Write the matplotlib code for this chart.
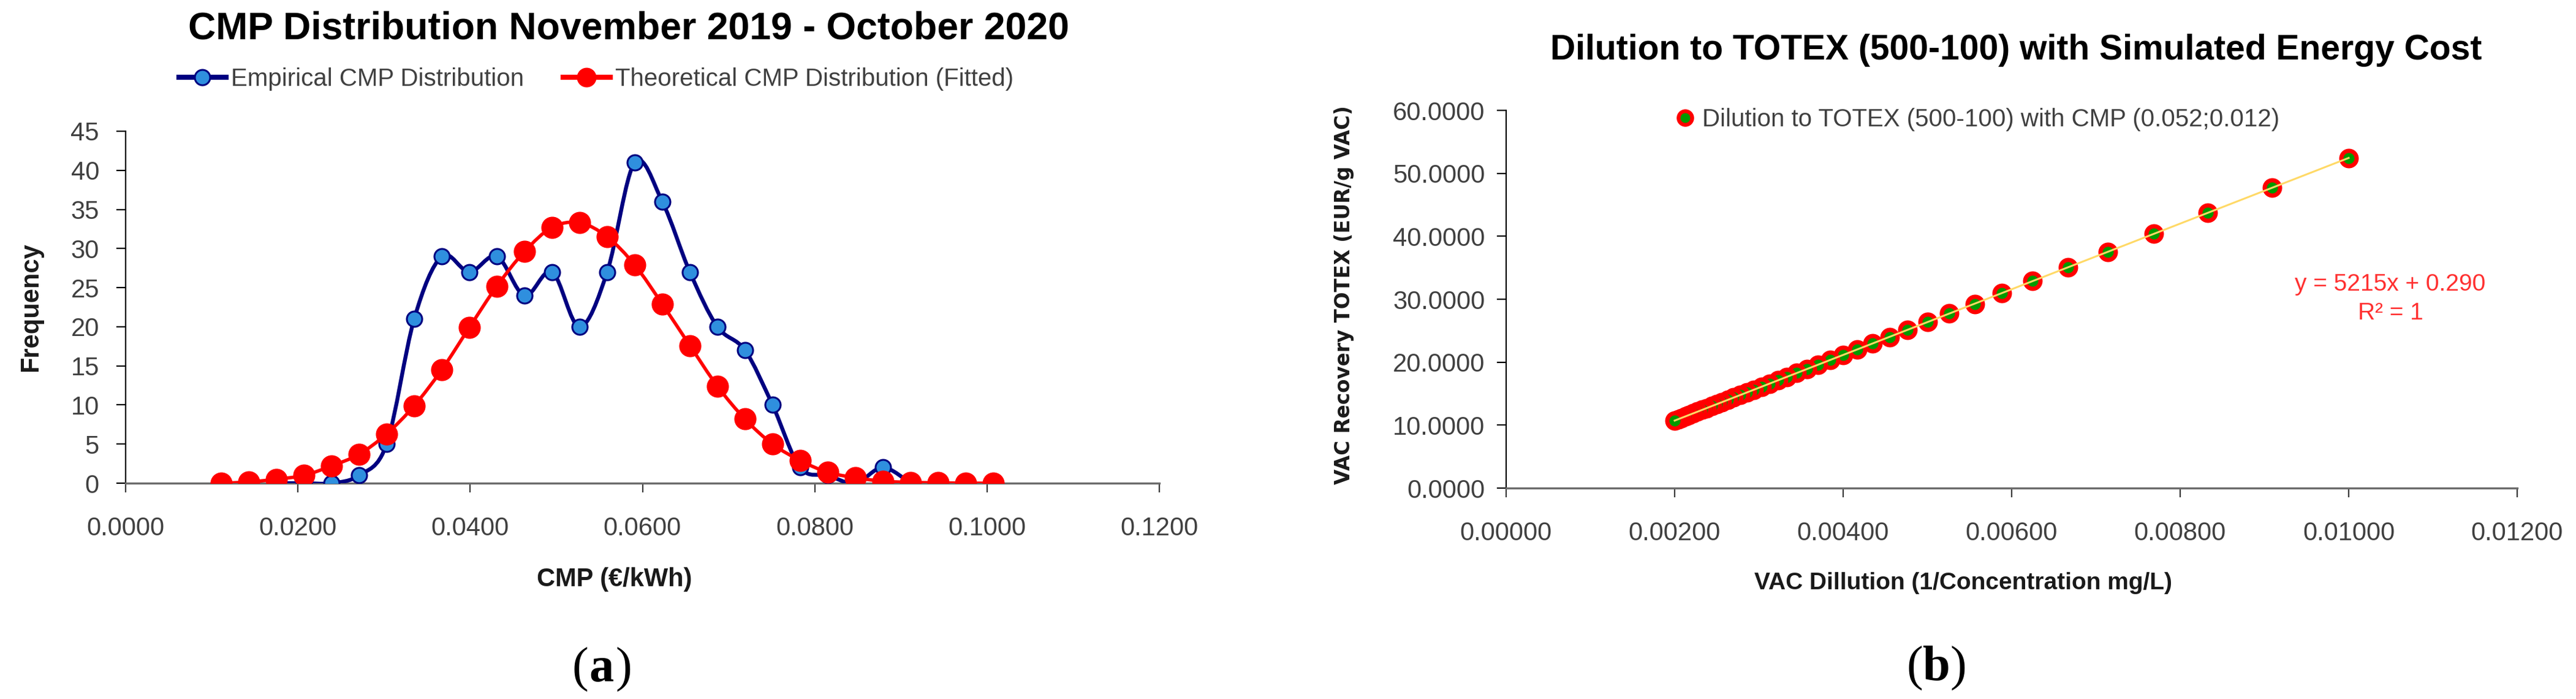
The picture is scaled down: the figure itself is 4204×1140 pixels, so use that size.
import numpy as np
import matplotlib
matplotlib.use("Agg")
import matplotlib.pyplot as plt
from matplotlib.path import Path
from matplotlib.patches import PathPatch
from matplotlib.lines import Line2D
from matplotlib.ticker import MultipleLocator, FormatStrFormatter

plt.rcParams['font.family'] = ['Liberation Sans', 'DejaVu Sans']

# ---- panel (a): CMP distribution ----
cmp_bins = [0.0111, 0.0143, 0.0175, 0.0207, 0.0239, 0.0271, 0.0303, 0.0335, 0.0367,
            0.0399, 0.0431, 0.0463, 0.0495, 0.0527, 0.0559, 0.0591, 0.0623, 0.0655,
            0.0687, 0.0719, 0.0751, 0.0783, 0.0815, 0.0847, 0.0879, 0.0911, 0.0943,
            0.0975, 0.1007]
empirical = [0, 0, 0, 1, 5, 21, 29, 27, 29, 24, 27, 20, 27, 41, 36, 27, 20, 17, 10,
             2, 1, 0, 2, 0]          # from bin 0.0175 to 0.0911
theoretical = [0.0, 0.15, 0.5, 1.0, 2.2, 3.7, 6.3, 9.9, 14.5, 19.9, 25.2, 29.6, 32.7,
               33.3, 31.5, 27.9, 22.9, 17.6, 12.4, 8.2, 5.0, 2.9, 1.4, 0.7, 0.25, 0.1,
               0.05, 0.0, 0.0]

# ---- panel (b): dilution vs TOTEX ----
dilution = [0.01000, 0.00909, 0.00833, 0.00769, 0.00714, 0.00667, 0.00625, 0.00588,
            0.00556, 0.00526, 0.00500, 0.00476, 0.00455, 0.00435, 0.00417, 0.00400,
            0.00385, 0.00370, 0.00357, 0.00345, 0.00333, 0.00323, 0.00313, 0.00303,
            0.00294, 0.00286, 0.00278, 0.00270, 0.00263, 0.00256, 0.00250, 0.00244,
            0.00238, 0.00233, 0.00227, 0.00222, 0.00217, 0.00213, 0.00208, 0.00204,
            0.00200]
totex = [52.44, 47.70, 43.75, 40.40, 37.54, 35.06, 32.88, 30.97, 29.26, 27.74, 26.37,
         25.12, 23.99, 22.96, 22.02, 21.15, 20.35, 19.61, 18.92, 18.27, 17.67, 17.11,
         16.59, 16.09, 15.63, 15.19, 14.78, 14.39, 14.01, 13.66, 13.33, 13.01, 12.71,
         12.42, 12.14, 11.88, 11.63, 11.39, 11.15, 10.93, 10.72]

W, H = 4204, 1140
TICK_GREY = '#404040'


def smooth_path(x, y):
    # Excel-like smoothed line: cubic Bezier segments through every point
    p = np.column_stack([x, y]).astype(float)
    verts = [p[0]]
    codes = [Path.MOVETO]
    n = len(p)
    for i in range(n - 1):
        p0 = p[i - 1] if i > 0 else p[i]
        p3 = p[i + 2] if i + 2 < n else p[i + 1]
        c1 = p[i] + (p[i + 1] - p0) / 6.0
        c2 = p[i + 1] - (p3 - p[i]) / 6.0
        verts += [c1, c2, p[i + 1]]
        codes += [Path.CURVE4] * 3
    return Path(verts, codes)


def style_axes(ax):
    for s in ['top', 'right']:
        ax.spines[s].set_visible(False)
    ax.spines['left'].set_color('black')
    ax.spines['left'].set_linewidth(1.6)
    ax.spines['bottom'].set_color('#6a6a6a')
    ax.spines['bottom'].set_linewidth(2.4)
    ax.tick_params(axis='both', direction='out', length=11, width=1.6,
                   labelsize=30, labelcolor=TICK_GREY)
    ax.tick_params(axis='x', color='#3a3a3a', pad=28)


def panel_tag(xc, yc, letter):
    # "(a)" with a bold letter, serif like the source figure
    kw = dict(va='center', fontsize=58, family='Liberation Serif')
    fig.text((xc - 22) / W, 1 - yc / H, '(', ha='right', **kw)
    fig.text(xc / W, 1 - yc / H, letter, ha='center', fontweight='bold', **kw)
    fig.text((xc + 22) / W, 1 - yc / H, ')', ha='left', **kw)


fig = plt.figure(figsize=(W / 100, H / 100), dpi=100)

# ================= (a) =================
ax1 = fig.add_axes([205 / W, (H - 788) / H, 1687 / W, 574 / H])
emp_x = cmp_bins[2:2 + len(empirical)]
ax1.add_patch(PathPatch(smooth_path(emp_x, empirical), fill=False,
                        edgecolor='#000080', lw=4.6, zorder=3, capstyle='round'))
ax1.plot(emp_x, empirical, ls='none', marker='o', ms=18, mfc='#2f8fde',
         mec='#000080', mew=2.2, zorder=4)
ax1.add_patch(PathPatch(smooth_path(cmp_bins, theoretical), fill=False,
                        edgecolor='#ff0000', lw=4.0, zorder=5, capstyle='round'))
ax1.plot(cmp_bins, theoretical, ls='none', marker='o', ms=25, mfc='#ff0000',
         mec='#ff0000', zorder=6)
ax1.set_xlim(0, 0.12)
ax1.set_ylim(0, 45)
ax1.xaxis.set_major_locator(MultipleLocator(0.02))
ax1.xaxis.set_major_formatter(FormatStrFormatter('%.4f'))
ax1.yaxis.set_major_locator(MultipleLocator(5))
style_axes(ax1)
ax1.tick_params(axis='y', pad=20)

h_emp = Line2D([], [], color='#000080', lw=6, marker='o', ms=18, mfc='#2f8fde',
               mec='#000080', mew=2.2)
h_the = Line2D([], [], color='#ff0000', lw=6, marker='o', ms=22, mfc='#ff0000',
               mec='#ff0000')
fig.legend([h_emp, h_the],
           ['Empirical CMP Distribution', 'Theoretical CMP Distribution (Fitted)'],
           loc='center left', bbox_to_anchor=(292 / W, 1 - 129 / H), ncol=2,
           frameon=False, fontsize=29, handlelength=1.9, handletextpad=0.2,
           columnspacing=1.6, borderpad=0, borderaxespad=0, labelcolor=TICK_GREY)

fig.text(1026 / W, 1 - 47 / H, 'CMP Distribution November 2019 - October 2020',
         ha='center', va='center', fontsize=45, fontweight='bold')
fig.text(1003 / W, 1 - 945 / H, 'CMP (€/kWh)', ha='center', va='center',
         fontsize=30, fontweight='bold', color='#1a1a1a')
fig.text(50 / W, 1 - 501 / H, 'Frequency', ha='center', va='center', rotation=90,
         fontsize=30, fontweight='bold', color='#1a1a1a')
panel_tag(982, 1092, 'a')

# ================= (b) =================
ax2 = fig.add_axes([2458 / W, (H - 796) / H, 1650 / W, 616 / H])
ax2.plot(dilution, totex, ls='none', marker='o', ms=18, mfc='#009a00',
         mec='#ff0000', mew=5, zorder=4)
slope, icept = np.polyfit(dilution, totex, 1)
xs = np.array([min(dilution), max(dilution)])
ax2.plot(xs, slope * xs + icept, color='#ffd966', lw=2.2, zorder=5)
ax2.set_xlim(0, 0.012)
ax2.set_ylim(0, 60)
ax2.xaxis.set_major_locator(MultipleLocator(0.002))
ax2.xaxis.set_major_formatter(FormatStrFormatter('%.5f'))
ax2.yaxis.set_major_locator(MultipleLocator(10))
ax2.yaxis.set_major_formatter(FormatStrFormatter('%.4f'))
style_axes(ax2)
ax2.tick_params(axis='y', pad=14)

h_sc = Line2D([], [], ls='none', marker='o', ms=16, mfc='#009a00', mec='#ff0000',
              mew=4.5)
fig.legend([h_sc], ['Dilution to TOTEX (500-100) with CMP (0.052;0.012)'],
           loc='center left', bbox_to_anchor=(2738 / W, 1 - 195 / H),
           frameon=False, fontsize=29, handlelength=0.6, handletextpad=0.4,
           borderpad=0, borderaxespad=0, labelcolor=TICK_GREY)

fig.text(3290 / W, 1 - 82 / H, 'Dilution to TOTEX (500-100) with Simulated Energy Cost',
         ha='center', va='center', fontsize=41, fontweight='bold')
fig.text(3901 / W, 1 - 464 / H, 'y = 5215x + 0.290', ha='center', va='center',
         fontsize=28, color='#ff3030')
fig.text(3901 / W, 1 - 511 / H, 'R² = 1', ha='center', va='center',
         fontsize=28, color='#ff3030')
fig.text(3204 / W, 1 - 951 / H, 'VAC Dillution (1/Concentration mg/L)', ha='center',
         va='center', fontsize=28, fontweight='bold', color='#1a1a1a')
fig.text(2194 / W, 1 - 481 / H, 'VAC Recovery TOTEX (EUR/g VAC)', ha='center',
         va='center', rotation=90, fontsize=23.5, fontweight='bold', color='#1a1a1a',
         family='DejaVu Sans')
panel_tag(3160, 1090, 'b')

fig.savefig('out.png', dpi=100, facecolor='white')
